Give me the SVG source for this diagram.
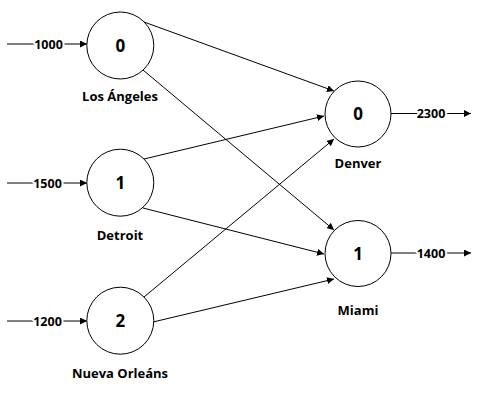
<svg xmlns="http://www.w3.org/2000/svg" width="487" height="401" viewBox="0 0 487 401">
<defs>
<marker id="ah" viewBox="0 0 10 10" refX="10" refY="5" markerWidth="7" markerHeight="7" markerUnits="userSpaceOnUse" orient="auto">
<path d="M0,0 L10,5 L0,10 z" fill="#000"/>
</marker>
<style>
.n{fill:#fff;stroke:#000;stroke-width:1}
.c{stroke:#000;stroke-width:1;fill:none;marker-end:url(#ah)}
.num{font-family:"Open Sans","Liberation Sans",sans-serif;font-weight:bold;font-size:17px;text-anchor:middle}
.lab{font-family:"Open Sans","Liberation Sans",sans-serif;font-weight:bold;font-size:13px;text-anchor:middle}
.fl{font-family:"Open Sans","Liberation Sans",sans-serif;font-weight:bold;font-size:12.5px;text-anchor:middle;stroke:#fff;stroke-width:4;paint-order:stroke}
</style>
</defs>
<rect width="487" height="401" fill="#fff"/>
<g id="connectors">
<line class="c" x1="144" y1="22" x2="334" y2="91"/>
<line class="c" x1="143" y1="70" x2="334" y2="230"/>
<line class="c" x1="144" y1="159" x2="324" y2="116"/>
<line class="c" x1="143" y1="208" x2="324" y2="254"/>
<line class="c" x1="144" y1="297" x2="334" y2="139"/>
<line class="c" x1="153" y1="322" x2="334" y2="279"/>
<g id="in0"><line class="c" x1="7" y1="44" x2="87" y2="44"/><text class="fl" x="48.5" y="48.5">1000</text></g>
<g id="in1"><line class="c" x1="7" y1="183" x2="87" y2="183"/><text class="fl" x="47.5" y="187.5">1500</text></g>
<g id="in2"><line class="c" x1="7" y1="321" x2="87" y2="321"/><text class="fl" x="47.5" y="325.5">1200</text></g>
<g id="out0"><line class="c" x1="391" y1="113.5" x2="471" y2="113.5"/><text class="fl" x="431" y="118">2300</text></g>
<g id="out1"><line class="c" x1="391" y1="253" x2="471" y2="253"/><text class="fl" x="431" y="257.5">1400</text></g>
</g>
<g id="s0"><circle class="n" cx="120.3" cy="45.5" r="33.5"/><text class="num" x="120.3" y="51.5">0</text><text class="lab" x="120" y="101">Los Ángeles</text></g>
<g id="s1"><circle class="n" cx="120.3" cy="182.7" r="33.5"/><text class="num" x="120.3" y="189">1</text><text class="lab" x="120" y="240">Detroit</text></g>
<g id="s2"><circle class="n" cx="120.3" cy="320.7" r="33.5"/><text class="num" x="120.3" y="327">2</text><text class="lab" x="120" y="378">Nueva Orleáns</text></g>
<g id="d0"><circle class="n" cx="358" cy="114" r="33"/><text class="num" x="358" y="120">0</text><text class="lab" x="358" y="168">Denver</text></g>
<g id="d1"><circle class="n" cx="358" cy="253.5" r="33"/><text class="num" x="358" y="259.5">1</text><text class="lab" x="358" y="315">Miami</text></g>
</svg>
